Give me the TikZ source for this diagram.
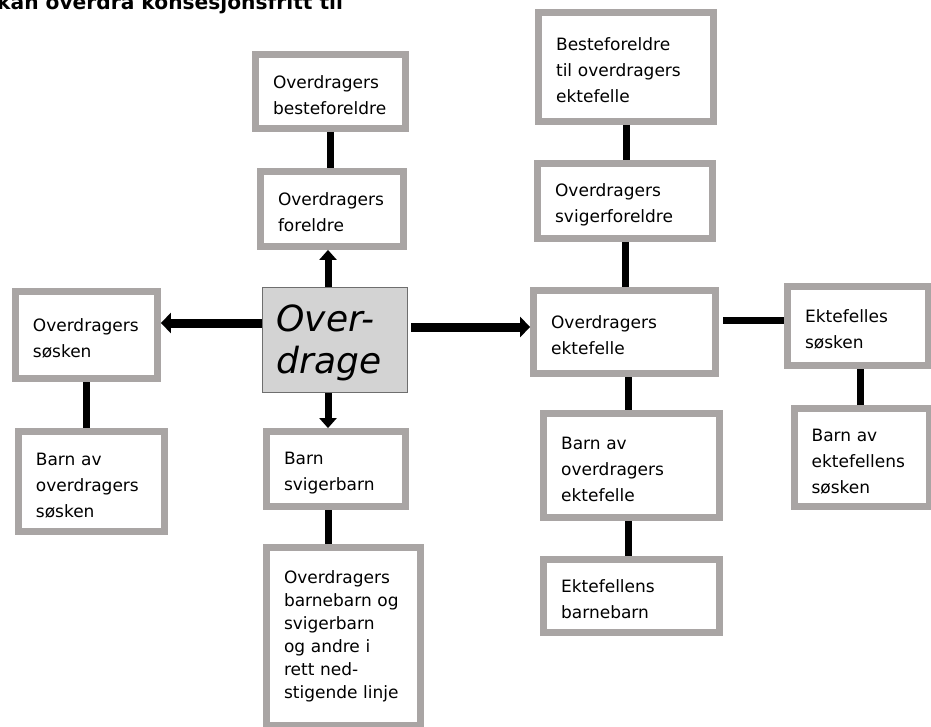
\documentclass[tikz,border=0pt]{standalone}
\usepackage{fontspec}
\setmainfont{DejaVu Sans}
\usetikzlibrary{arrows.meta,%
                shapes,positioning}
\definecolor{kantgraa}{RGB}{169,165,164}
\definecolor{senterfyll}{RGB}{211,211,211}
\definecolor{senterkant}{RGB}{110,110,110}
\hyphenpenalty=10000

\begin{document}
\begin{tikzpicture}[x=1pt, y=-1pt]
  \tikzset{KasseStyle/.style 2 args = {shape          = rectangle,
                                       draw           = kantgraa,
                                       line width     = 7pt,
                                       fill           = white,
                                       text           = black,
                                       inner xsep     = 17.5pt,
                                       inner ysep     = 0pt,
                                       text width     = #1,
                                       minimum height = #2,
                                       align          = left,
                                       execute at begin node = \rule{0pt}{20pt},
                                       font           = \fontsize{17}{26}\selectfont},
           SenterStyle/.style       = {shape          = rectangle,
                                       draw           = senterkant,
                                       line width     = 1.2pt,
                                       fill           = senterfyll,
                                       inner xsep     = 14pt,
                                       text width     = 117pt,
                                       minimum height = 105pt,
                                       align          = left,
                                       execute at begin node = \rule{0pt}{33pt},
                                       font           = \fontsize{36}{42}\selectfont\itshape},
           StrekStyle/.style        = {line width = 7pt, black},
           PilStyle/.style          = {line width = 7pt, black,
                                       -{Triangle[length=10pt, width=17pt]}},
           PilHStyle/.style         = {line width = 9pt, black,
                                       -{Triangle[length=10pt, width=20pt]}}}
  \useasboundingbox (0,0) rectangle (931,727);
  \node[anchor=base west, inner sep=0pt, font=\fontsize{20.2}{24}\selectfont\bfseries]
    (titel) at (-3,10) {kan overdra konsesjonsfritt til};
  %%% MIDTEN %%%
  \node[SenterStyle] (senter) at (335,340) {Over-\\drage};
  \node[KasseStyle={108pt}{75pt}, above=37pt of senter, xshift=-3pt] (of) {Overdragers\\foreldre};
  \node[KasseStyle={115pt}{74pt}, above=36pt of of, xshift=-1.5pt] (obf) {Overdragers\\besteforeldre};
  \node[KasseStyle={104pt}{75pt}, below=35pt of senter, xshift=1pt] (bsb) {Barn\\svigerbarn};
  \node[KasseStyle={119pt}{178pt}, below=34pt of bsb, xshift=7.5pt,
        execute at begin node={}, execute at end node={\rule[-12pt]{0pt}{0pt}},
        font=\fontsize{17}{23}\selectfont] (obb)
    {Overdragers\\barnebarn og\\svigerbarn\\og andre i\\rett ned-\\stigende linje};
  %%% VENSTRE %%%
  \node[KasseStyle={107pt}{87pt}, left=101pt of senter, yshift=5pt] (os) {Overdragers\\søsken};
  \node[KasseStyle={111pt}{100pt}, below=46pt of os, xshift=5pt] (bos) {Barn av\\overdragers\\søsken};
  %%% HOYRE %%%
  \node[KasseStyle={147pt}{83pt}, right=122pt of senter, yshift=8pt] (oe) {Overdragers\\ektefelle};
  \node[KasseStyle={140pt}{75pt}, above=45pt of oe, xshift=0.5pt] (osf) {Overdragers\\svigerforeldre};
  \node[KasseStyle={140pt}{109pt}, above=35pt of osf, xshift=1pt] (bfe) {Besteforeldre\\til overdragers\\ektefelle};
  \node[KasseStyle={141pt}{104pt}, below=33pt of oe, xshift=7pt] (boe) {Barn av\\overdragers\\ektefelle};
  \node[KasseStyle={141pt}{73pt}, below=35pt of boe] (ebb) {Ektefellens\\barnebarn};
  \node[KasseStyle={106pt}{79pt}, right=65pt of oe, yshift=6pt] (es) {Ektefelles\\søsken};
  \node[KasseStyle={100pt}{98pt}, below=36pt of es, xshift=3.5pt] (bes) {Barn av\\ektefellens\\søsken};
  %%% PILER OG STREKER %%%
  \draw[PilStyle] ([xshift=-7pt]senter.north) -- ([xshift=-7pt]senter.north |- of.south);
  \draw[PilStyle] ([xshift=-7pt]senter.south) -- ([xshift=-7pt]senter.south |- bsb.north);
  \draw[PilHStyle] ([yshift=17pt]senter.west) -- ([yshift=17pt]senter.west -| os.east);
  \draw[PilHStyle, shorten <=3pt] ([yshift=13pt]senter.east) -- ([yshift=13pt]senter.east -| oe.west);
  \draw[StrekStyle] (obf.south) -- (obf.south |- of.north);
  \draw[StrekStyle] ([xshift=-8pt]bsb.south) -- ([xshift=-8pt]bsb.south |- obb.north);
  \draw[StrekStyle] (os.south) -- (os.south |- bos.north);
  \draw[StrekStyle] (bfe.south) -- (bfe.south |- osf.north);
  \draw[StrekStyle] (osf.south) -- (osf.south |- oe.north);
  \draw[StrekStyle] ([xshift=3.5pt]oe.south) -- ([xshift=3.5pt]oe.south |- boe.north);
  \draw[StrekStyle] ([xshift=-3.5pt]boe.south) -- ([xshift=-3.5pt]boe.south |- ebb.north);
  \draw[StrekStyle, shorten <=4pt] ([yshift=12pt]oe.east) -- ([yshift=12pt]oe.east -| es.west);
  \draw[StrekStyle] ([xshift=2.5pt]es.south) -- ([xshift=2.5pt]es.south |- bes.north);
\end{tikzpicture}
\end{document}
